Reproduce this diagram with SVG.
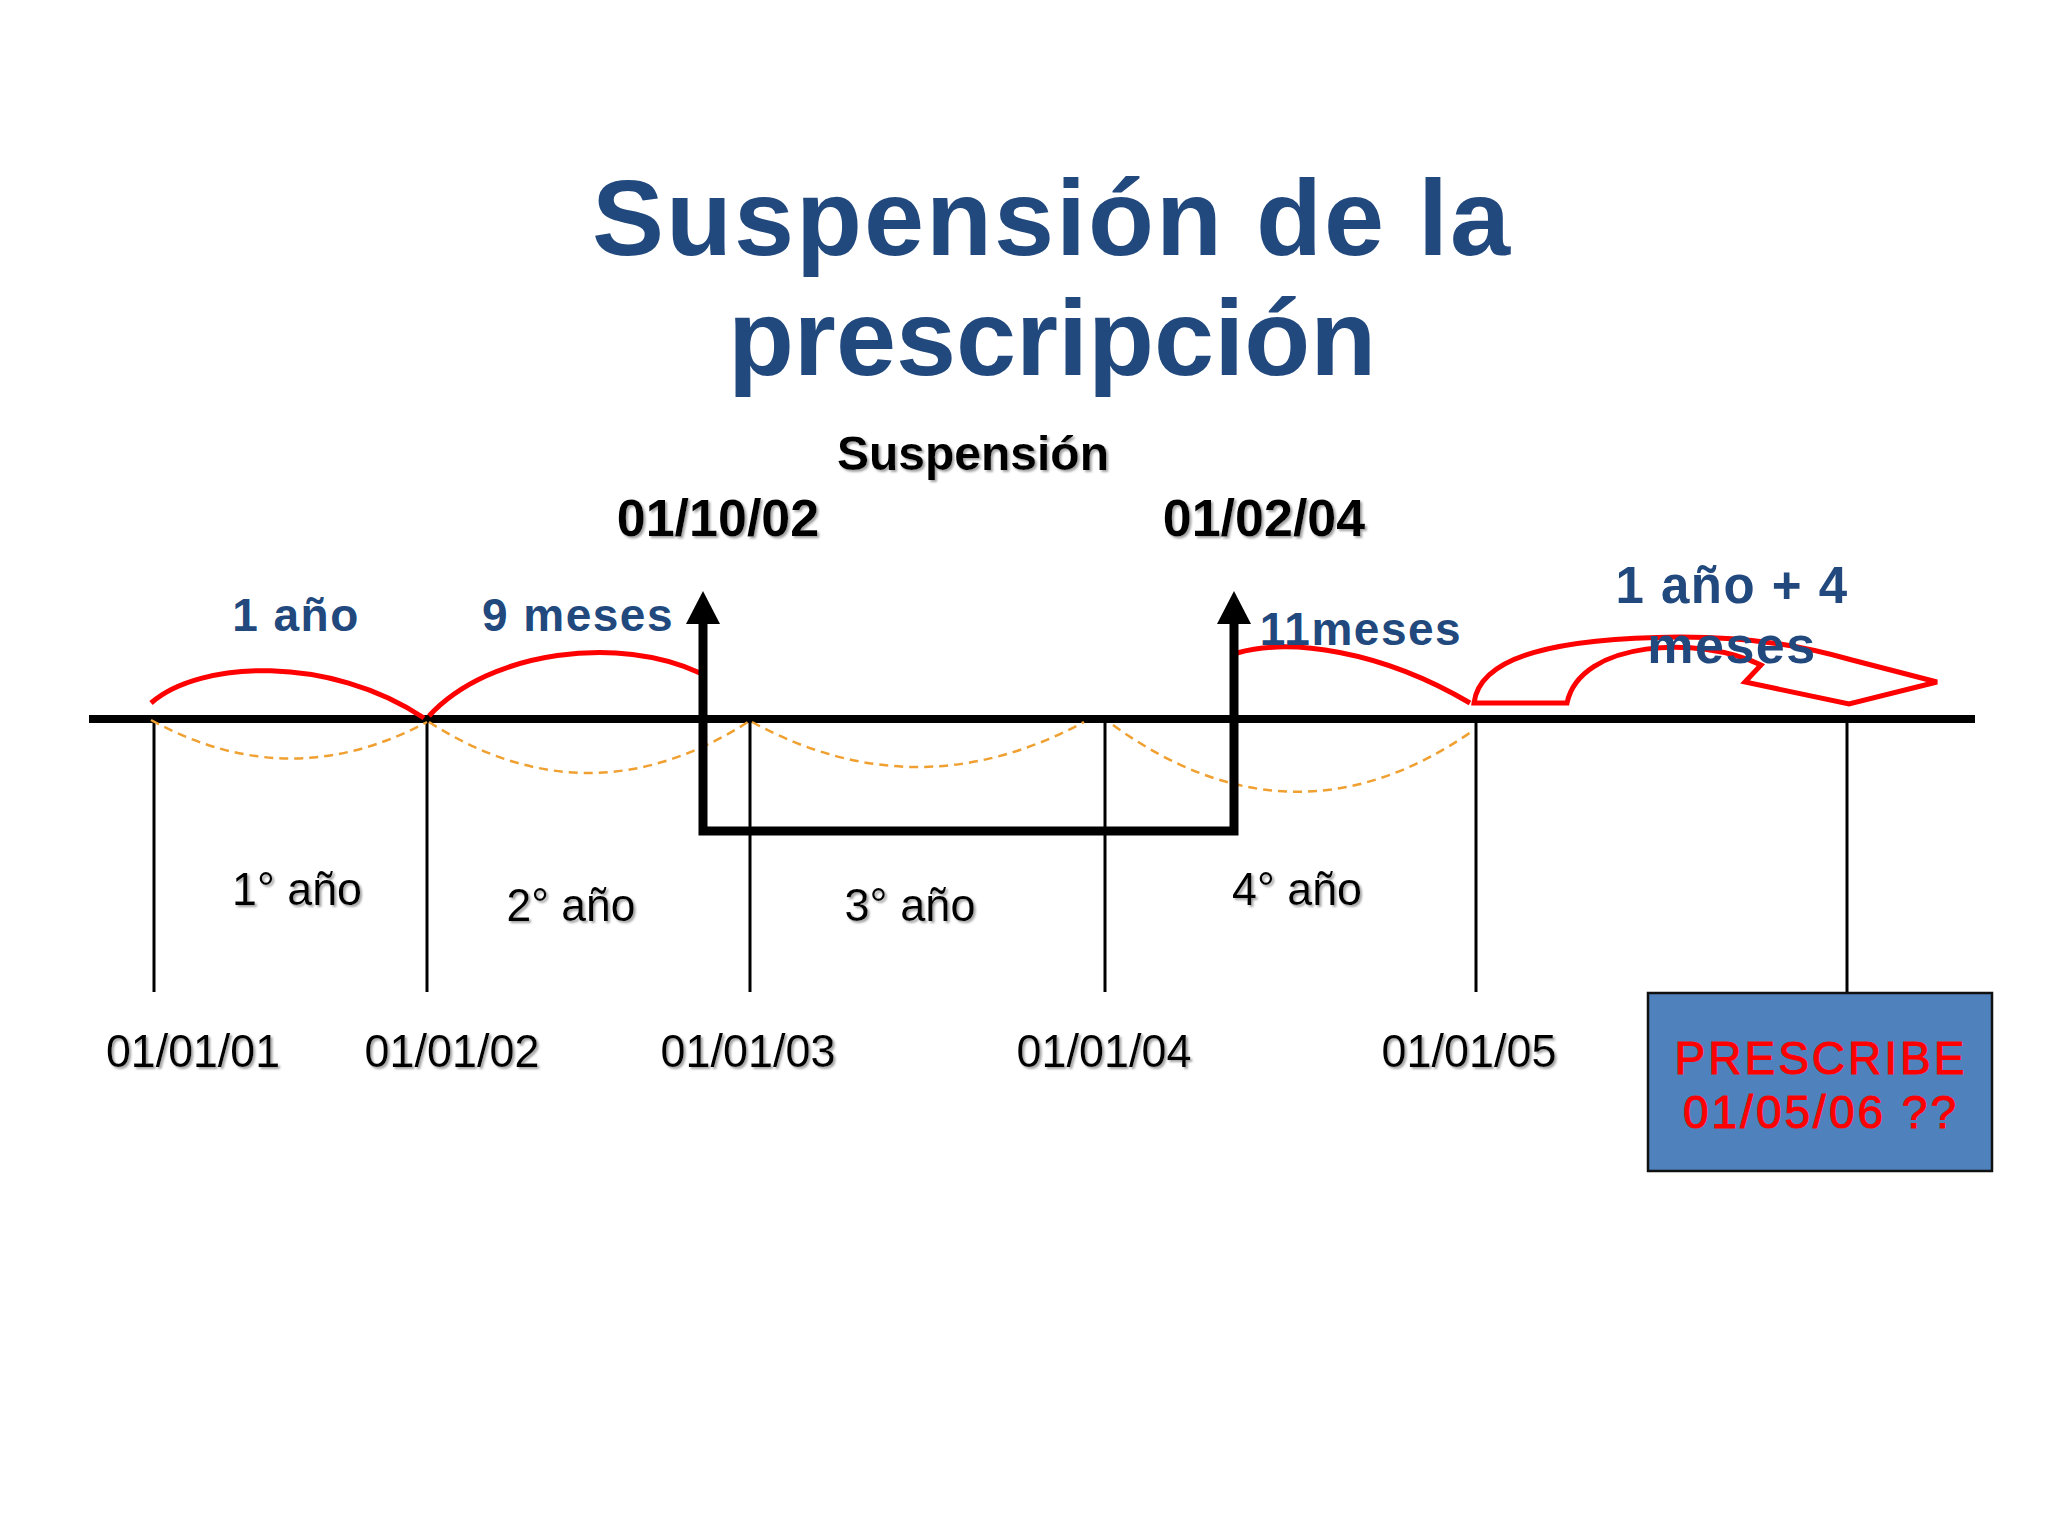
<svg xmlns="http://www.w3.org/2000/svg" width="2048" height="1536" viewBox="0 0 2048 1536">
<style>
.title{font-family:"Liberation Sans",Arial,sans-serif;font-weight:bold;font-size:108px;fill:#22497E;text-anchor:middle}
.blk{font-family:"Liberation Sans",Arial,sans-serif;font-weight:bold;fill:#000;text-anchor:middle}
.blue{font-family:"Liberation Sans",Arial,sans-serif;font-weight:bold;fill:#22497E;text-anchor:middle;letter-spacing:1.5px}
.lab{font-family:"Liberation Sans",Arial,sans-serif;font-size:47px;fill:#000;text-anchor:middle}
.red{font-family:"Liberation Sans",Arial,sans-serif;font-size:46px;fill:#FF0000;stroke:#FF0000;stroke-width:1;text-anchor:middle;letter-spacing:3px}
.tick{stroke:#000;stroke-width:3;fill:none}
.arc{stroke:#FF0000;stroke-width:5;fill:none;stroke-linecap:butt}
.dash{stroke:#F0A030;stroke-width:2.5;fill:none;stroke-dasharray:9 6}
</style>
<defs>
<filter id="sh" x="-10%" y="-10%" width="130%" height="140%">
<feDropShadow dx="2" dy="2" stdDeviation="0.8" flood-color="#999" flood-opacity="0.9"/>
</filter>
</defs>
<rect width="2048" height="1536" fill="#FFFFFF"/>

<g id="title">
<text class="title" x="1052" y="255" letter-spacing="2">Suspensión de la</text>
<text class="title" x="1052" y="375">prescripción</text>
</g>

<g id="connectors">
<line x1="89" y1="719" x2="1975" y2="719" stroke="#000" stroke-width="8"/>
<line class="tick" x1="154" y1="719" x2="154" y2="992"/>
<line class="tick" x1="427" y1="719" x2="427" y2="992"/>
<line class="tick" x1="750" y1="719" x2="750" y2="992"/>
<line class="tick" x1="1105" y1="719" x2="1105" y2="992"/>
<line class="tick" x1="1476" y1="719" x2="1476" y2="992"/>
<line class="tick" x1="1847" y1="719" x2="1847" y2="993"/>
<path class="dash" d="M151 720 Q289 796 427 722"/>
<path class="dash" d="M429 722 Q588 824 748 722"/>
<path class="dash" d="M752 722 Q917 812 1084 722"/>
<path class="dash" d="M1113 725 Q1294 856 1474 730"/>
<path class="arc" d="M151 703 C200 660 330 655 424 718"/>
<path class="arc" d="M429 716 C490 650 620 635 700 673"/>
<path class="arc" d="M1237 653 C1290 638 1380 650 1470 703"/>
<path d="M703 624 L703 831 L1234 831 L1234 624" stroke="#000" stroke-width="9" fill="none"/>
<path d="M686 624 L703 591 L720 624 Z" fill="#000"/>
<path d="M1217 624 L1234 591 L1251 624 Z" fill="#000"/>
<path d="M1474 703 C1480 655 1560 638 1680 637 C1760 637 1810 648 1852 660 L1937 682 L1849 704 L1745 682 L1761 665 C1700 635 1580 640 1567 703 Z" stroke="#FF0000" stroke-width="5" fill="none" stroke-linejoin="miter"/>
</g>

<g id="suspension-labels" filter="url(#sh)">
<text class="blk" x="973" y="470" font-size="48">Suspensión</text>
<text class="blk" x="718" y="536" font-size="52">01/10/02</text>
<text class="blk" x="1264" y="536" font-size="52">01/02/04</text>
</g>

<g id="period-labels">
<text class="blue" x="296" y="631" style="font-size:46px">1 año</text>
<text class="blue" x="578" y="631" style="font-size:46px">9 meses</text>
<text class="blue" x="1361" y="645" style="font-size:46px">11meses</text>
<text class="blue" x="1732" y="603" style="font-size:51px">1 año + 4</text>
<text class="blue" x="1732" y="663" style="font-size:52px">meses</text>
</g>

<g id="year-labels" filter="url(#sh)">
<text class="lab" x="297" y="905" textLength="130" lengthAdjust="spacingAndGlyphs">1° año</text>
<text class="lab" x="571" y="921" textLength="129" lengthAdjust="spacingAndGlyphs">2° año</text>
<text class="lab" x="910" y="921" textLength="131" lengthAdjust="spacingAndGlyphs">3° año</text>
<text class="lab" x="1297" y="905" textLength="130" lengthAdjust="spacingAndGlyphs">4° año</text>
</g>

<g id="date-labels" filter="url(#sh)">
<text class="lab" x="193" y="1067" textLength="174" lengthAdjust="spacingAndGlyphs">01/01/01</text>
<text class="lab" x="452" y="1067" textLength="175" lengthAdjust="spacingAndGlyphs">01/01/02</text>
<text class="lab" x="748" y="1067" textLength="175" lengthAdjust="spacingAndGlyphs">01/01/03</text>
<text class="lab" x="1104" y="1067" textLength="175" lengthAdjust="spacingAndGlyphs">01/01/04</text>
<text class="lab" x="1469" y="1067" textLength="175" lengthAdjust="spacingAndGlyphs">01/01/05</text>
</g>

<g id="prescribe">
<rect x="1648" y="993" width="344" height="178" fill="#4F81BD" stroke="#111" stroke-width="2.5"/>
<text class="red" x="1821" y="1074">PRESCRIBE</text>
<text class="red" x="1821" y="1128">01/05/06 ??</text>
</g>
</svg>
